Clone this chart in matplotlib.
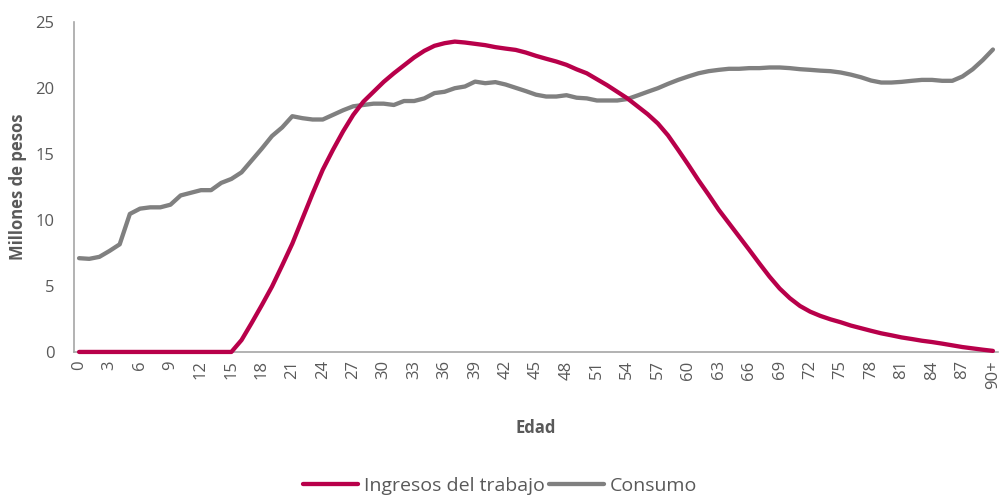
import numpy as np
import matplotlib.pyplot as plt

plt.rcParams['font.family'] = ['Open Sans', 'DejaVu Sans']

# Age categories (0 ... 89, 90+)
edades = [str(a) for a in range(90)] + ['90+']

# Millones de pesos por edad
ingresos = [0, 0, 0, 0, 0, 0, 0, 0, 0, 0, 0, 0, 0, 0, 0, 0,
            0.9, 2.2, 3.55, 4.95, 6.55, 8.2, 10.1, 12.0, 13.8, 15.3,
            16.7, 17.95, 18.95, 19.7, 20.45, 21.1, 21.7, 22.3, 22.8, 23.18,
            23.38, 23.5, 23.43, 23.33, 23.23, 23.08, 22.97, 22.87, 22.67, 22.42,
            22.2, 21.99, 21.74, 21.4, 21.1, 20.65, 20.2, 19.7, 19.2, 18.6,
            18.0, 17.3, 16.4, 15.3, 14.17, 13.0, 11.9, 10.76, 9.75, 8.74,
            7.73, 6.7, 5.7, 4.8, 4.07, 3.48, 3.05, 2.73, 2.47, 2.25,
            2.0, 1.8, 1.6, 1.41, 1.26, 1.1, 0.98, 0.85, 0.75, 0.63,
            0.5, 0.37, 0.27, 0.17, 0.08]

consumo = [7.1, 7.05, 7.2, 7.65, 8.15, 10.45, 10.85, 10.95, 10.95, 11.15,
           11.85, 12.05, 12.25, 12.25, 12.8, 13.1, 13.6, 14.5, 15.4, 16.35,
           17.0, 17.85, 17.7, 17.6, 17.6, 17.95, 18.3, 18.6, 18.7, 18.8,
           18.8, 18.7, 19.0, 19.0, 19.2, 19.6, 19.7, 19.97, 20.1, 20.47,
           20.35, 20.43, 20.25, 20.0, 19.75, 19.48, 19.34, 19.34, 19.44, 19.25,
           19.2, 19.04, 19.04, 19.04, 19.15, 19.42, 19.7, 19.97, 20.3, 20.6,
           20.86, 21.1, 21.26, 21.36, 21.44, 21.44, 21.49, 21.49, 21.54, 21.54,
           21.49, 21.41, 21.36, 21.3, 21.26, 21.16, 21.0, 20.8, 20.55, 20.4,
           20.4, 20.45, 20.53, 20.6, 20.6, 20.53, 20.53, 20.86, 21.4, 22.1,
           22.9]

rojo = '#B8004A'
gris = '#808080'
texto = '#595959'

fig = plt.figure(figsize=(10, 4.95), dpi=100)
ax = fig.add_axes([0.074, 0.289, 0.924, 0.667])

x = np.arange(len(edades))
ax.plot(x, ingresos, color=rojo, lw=3.1, solid_capstyle='round', clip_on=False,
        zorder=4, label='Ingresos del trabajo')
ax.plot(x, consumo, color=gris, lw=3.1, solid_capstyle='round', clip_on=False,
        zorder=3, label='Consumo')

ax.set_xlim(-0.5, len(edades) - 0.5)
ax.set_ylim(0, 25)
ax.set_yticks([0, 5, 10, 15, 20, 25])
ax.set_xticks(x[::3])
ax.set_xticklabels(edades[::3], rotation=90)
ax.tick_params(axis='both', length=0, colors=texto, labelsize=12)
ax.tick_params(axis='x', pad=6)
ax.tick_params(axis='y', pad=14)

for s in ['top', 'right']:
    ax.spines[s].set_visible(False)
for s in ['left', 'bottom']:
    ax.spines[s].set_color('#A6A6A6')
    ax.spines[s].set_linewidth(1.2)

ax.set_xlabel('Edad', fontsize=12, fontweight='bold', color=texto, labelpad=22)
ax.set_ylabel('Millones de pesos', fontsize=12, fontweight='bold', color=texto, labelpad=6)

leg = fig.legend(loc='lower center', bbox_to_anchor=(0.5, -0.035), ncol=2, frameon=False,
                 fontsize=14, handlelength=2.85, columnspacing=0.2, handletextpad=0.3)
for t in leg.get_texts():
    t.set_color(texto)

plt.savefig('out.png', dpi=100)
